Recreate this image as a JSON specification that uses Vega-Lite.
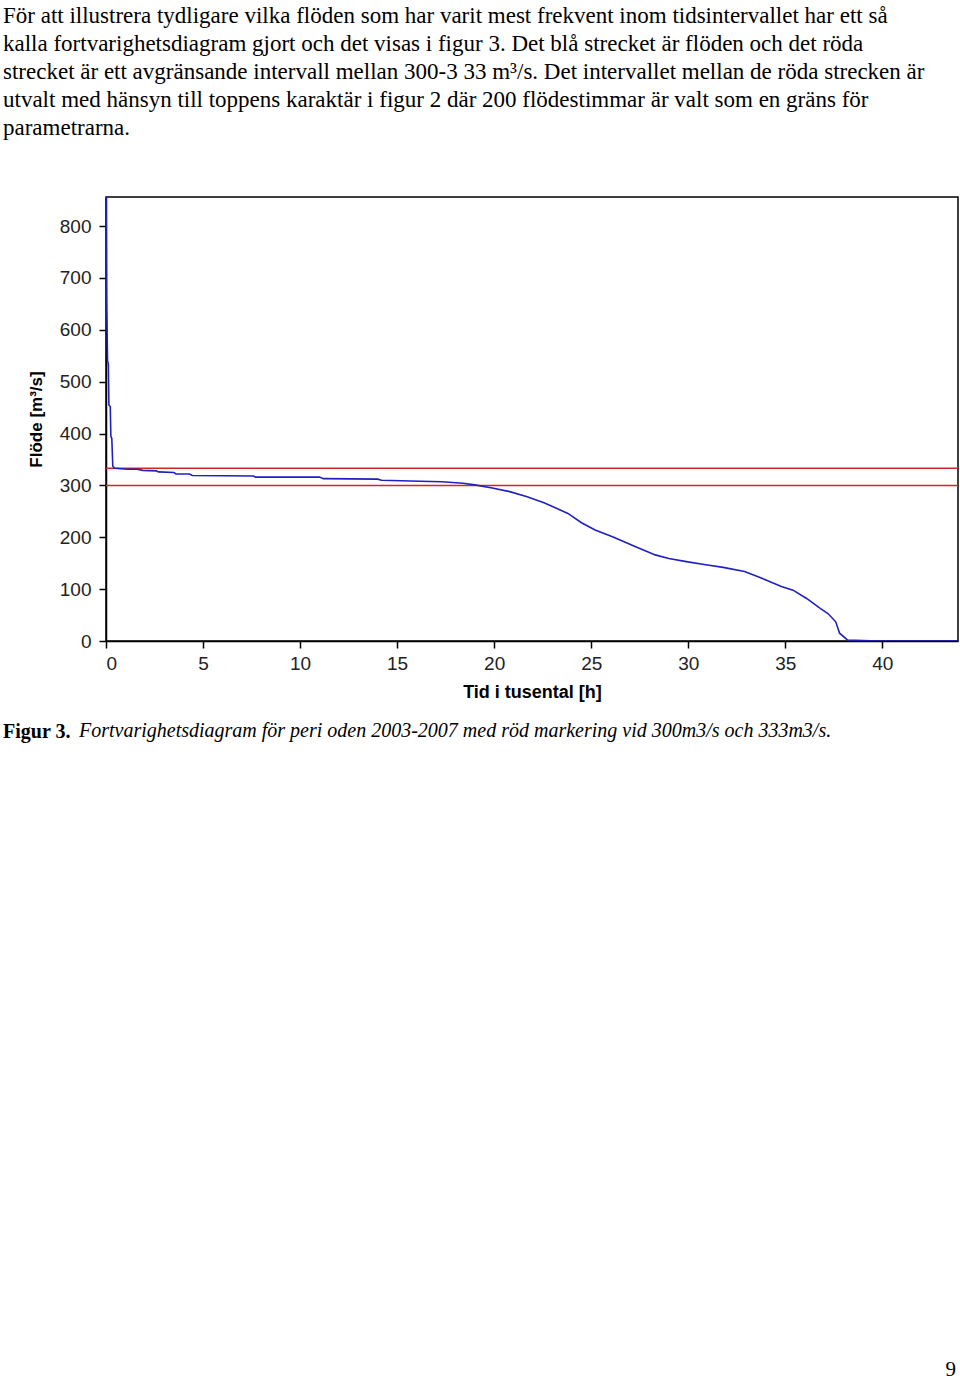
{
  "$schema": "https://vega.github.io/schema/vega-lite/v6.json",
  "padding": {"left": 3, "top": 5, "right": 0, "bottom": 0},
  "background": "white",
  "bounds": "flush",
  "title": {"text": "9", "orient": "bottom", "anchor": "end", "frame": "group", "font": "Liberation Serif", "fontSize": 21, "fontWeight": "normal", "color": "#000000", "offset": 617, "dx": -2},
  "datasets": {
    "flow": [
      {"tid": 0, "flode": 900},
      {"tid": 0.03, "flode": 665},
      {"tid": 0.08, "flode": 540},
      {"tid": 0.12, "flode": 535},
      {"tid": 0.15, "flode": 455},
      {"tid": 0.22, "flode": 452},
      {"tid": 0.25, "flode": 395},
      {"tid": 0.3, "flode": 390},
      {"tid": 0.35, "flode": 337},
      {"tid": 0.45, "flode": 333},
      {"tid": 1.1, "flode": 331},
      {"tid": 1.6, "flode": 331},
      {"tid": 1.9, "flode": 329},
      {"tid": 2.6, "flode": 328},
      {"tid": 2.7, "flode": 326},
      {"tid": 3.5, "flode": 325},
      {"tid": 3.6, "flode": 322},
      {"tid": 4.3, "flode": 322},
      {"tid": 4.45, "flode": 319},
      {"tid": 7.6, "flode": 318},
      {"tid": 7.7, "flode": 316},
      {"tid": 11.0, "flode": 316},
      {"tid": 11.2, "flode": 313},
      {"tid": 14.0, "flode": 312},
      {"tid": 14.2, "flode": 310},
      {"tid": 16.2, "flode": 308},
      {"tid": 17.3, "flode": 307},
      {"tid": 18.4, "flode": 304},
      {"tid": 19.0, "flode": 301},
      {"tid": 19.9, "flode": 295},
      {"tid": 20.8, "flode": 288},
      {"tid": 21.7, "flode": 278},
      {"tid": 22.6, "flode": 266},
      {"tid": 23.8, "flode": 246},
      {"tid": 24.5, "flode": 228},
      {"tid": 25.2, "flode": 214},
      {"tid": 26.1, "flode": 201},
      {"tid": 27.2, "flode": 183},
      {"tid": 28.3, "flode": 166},
      {"tid": 29.0, "flode": 159},
      {"tid": 29.9, "flode": 153},
      {"tid": 30.9, "flode": 147},
      {"tid": 31.8, "flode": 142},
      {"tid": 32.9, "flode": 134},
      {"tid": 33.6, "flode": 124},
      {"tid": 34.8, "flode": 105},
      {"tid": 35.4, "flode": 98},
      {"tid": 36.1, "flode": 82},
      {"tid": 36.8, "flode": 63},
      {"tid": 37.2, "flode": 53},
      {"tid": 37.6, "flode": 37},
      {"tid": 37.8, "flode": 15},
      {"tid": 38.2, "flode": 2},
      {"tid": 39.4, "flode": 0.5},
      {"tid": 43.9, "flode": 0}
    ],
    "limits": [
      {"grans": 300},
      {"grans": 333}
    ]
  },
  "vconcat": [
    {
      "bounds": "flush",
      "title": {
        "text": [
          "För att illustrera tydligare vilka flöden som har varit mest frekvent inom tidsintervallet har ett så",
          "kalla fortvarighetsdiagram gjort och det visas i figur 3. Det blå strecket är flöden och det röda",
          "strecket är ett avgränsande intervall mellan 300-3 33 m³/s. Det intervallet mellan de röda strecken är",
          "utvalt med hänsyn till toppens karaktär i figur 2 där 200 flödestimmar är valt som en gräns för",
          "parametrarna."
        ],
        "orient": "top", "anchor": "start", "frame": "group", "dx": -103, "offset": 56,
        "font": "Liberation Serif", "fontSize": 23, "lineHeight": 28, "fontWeight": "normal", "color": "#000000", "limit": 0
      },
      "vconcat": [
        {
          "bounds": "flush",
          "title": {"text": "Figur 3.", "orient": "bottom", "anchor": "start", "frame": "group", "dx": -103, "offset": -20, "font": "Liberation Serif", "fontSize": 20, "fontWeight": "bold", "color": "#000000"},
          "vconcat": [
            {
              "width": 852,
              "height": 444,
              "title": {"text": "Fortvarighetsdiagram för peri oden 2003-2007 med röd markering vid 300m3/s och 333m3/s.", "orient": "bottom", "anchor": "start", "frame": "group", "dx": -27, "offset": 20, "font": "Liberation Serif", "fontSize": 20, "fontStyle": "italic", "fontWeight": "normal", "color": "#000000", "limit": 0},
              "layer": [
                {
                  "data": {"name": "limits"},
                  "mark": {"type": "rule", "color": "#d42424", "strokeWidth": 1.5},
                  "encoding": {"y": {"field": "grans", "type": "quantitative"}}
                },
                {
                  "data": {"name": "flow"},
                  "mark": {"type": "line", "color": "#2020c0", "strokeWidth": 1.6, "clip": true},
                  "encoding": {
                    "x": {
                      "field": "tid", "type": "quantitative",
                      "scale": {"domain": [0, 43.9], "nice": false, "zero": false},
                      "axis": {"title": "Tid i tusental [h]", "titleFontSize": 18, "values": [0, 5, 10, 15, 20, 25, 30, 35, 40], "tickSize": 7, "labelPadding": 6, "titlePadding": 10}
                    },
                    "y": {
                      "field": "flode", "type": "quantitative",
                      "scale": {"domain": [0, 856], "nice": false},
                      "axis": {"title": "Flöde [m³/s]", "titleFontSize": 17, "values": [0, 100, 200, 300, 400, 500, 600, 700, 800], "tickSize": 7, "labelPadding": 8, "titlePadding": 14}
                    }
                  }
                }
              ]
            }
          ]
        }
      ]
    }
  ],
  "config": {
    "view": {"stroke": "#000000", "strokeWidth": 1.5},
    "axis": {
      "grid": false,
      "domainColor": "#000000",
      "domainWidth": 1.5,
      "tickColor": "#000000",
      "tickWidth": 1.5,
      "labelFont": "Liberation Sans",
      "labelFontSize": 19,
      "labelColor": "#222222",
      "titleFont": "Liberation Sans",
      "titleFontWeight": "bold",
      "titleColor": "#000000"
    }
  }
}
